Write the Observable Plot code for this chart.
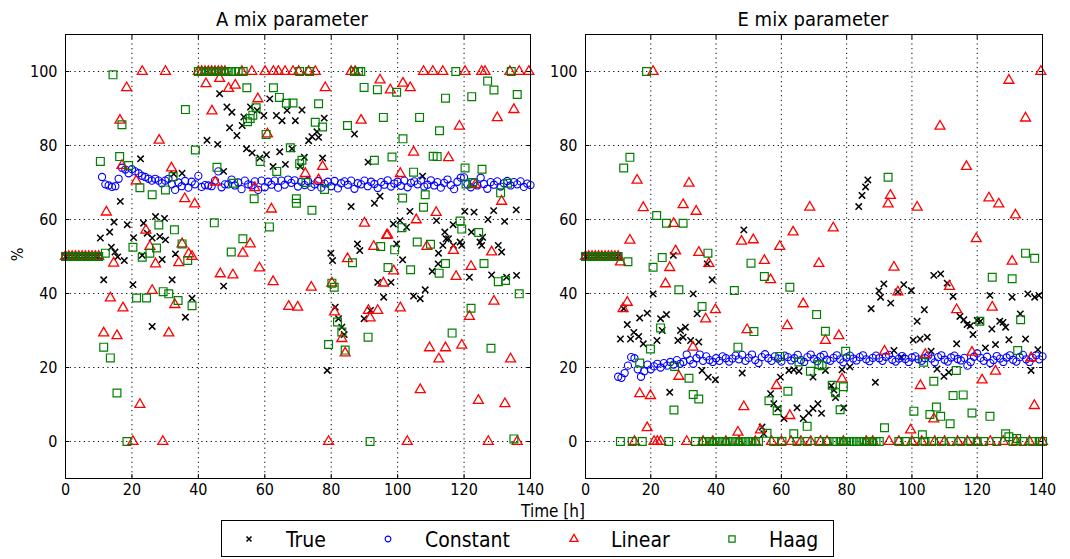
<!DOCTYPE html>
<html><head><meta charset="utf-8">
<script src="https://cdn.jsdelivr.net/npm/d3@7"></script>
<script src="https://cdn.jsdelivr.net/npm/@observablehq/plot@0.6"></script>
<style>
body{margin:0;background:#fff;font-family:"DejaVu Sans Condensed","DejaVu Sans",sans-serif;font-stretch:condensed;}
#wrap{position:relative;width:1070px;height:559px;overflow:hidden;background:#fff;}
.panel{position:absolute;top:0;}
.title{position:absolute;top:7px;font-size:20px;white-space:nowrap;transform:translateX(-50%);}
#ylab{position:absolute;left:11px;top:245px;font-size:16px;transform:rotate(-90deg);}
#xlab{position:absolute;left:553px;top:503px;font-size:17px;line-height:16px;transform:translateX(-50%);white-space:nowrap;}
#legend{position:absolute;left:221px;top:520px;width:611px;height:35px;border:1.3px solid #000;}
</style></head><body><div id="wrap">
<div class="title" style="left:292px">A mix parameter</div>
<div class="title" style="left:813px">E mix parameter</div>
<div id="ylab">%</div>
<div id="xlab">Time [h]</div>
<div id="legend"></div>
</div>
<script>
// ---- tick values ----
const xTicks = [0,20,40,60,80,100,120,140];
const yTicks = [0,20,40,60,80,100];
// ---- common start segment (all series at 50 %) ----
const startTimes = [0,1,2,3,4,5,6,7,8,9,10];
const startValue = 50;

// ---- A mix parameter ----
const A_constantStart = 11;
const A_constant = [71.5,69.5,69.2,68.8,69,71,74,73.5,72.5,73.6,
73,72.5,71.8,71.5,71,70.5,71,70.5,69.8,70.5,
71,69.5,68,70,69,70.4,68.6,70.2,69.5,71.8,
68.8,69.3,69.2,69,70.5,73,68.7,69.5,69.5,70.8,
69.2,70,68.2,70.5,69.5,69.2,70.3,68,70.5,68.7,
70.2,69.4,70.5,68.6,70.5,69.4,70.8,69.9,70.6,68.9,
70.2,69.3,70.4,68.8,69.5,70.4,68.6,69.7,70.2,69,
70.4,68.4,69.8,70.3,69.4,70.5,68.3,69.8,69.5,70.5,
69,70.2,69.6,68.5,70.1,69.4,70.6,68.9,69.7,70.2,
69.1,70.5,68.7,69.9,70.3,69.5,70.5,68.9,69.4,70.6,
69.2,70.1,68.6,69.9,70.8,69.3,68.2,70.2,71.3,71.4,
69.5,68.7,70,69.2,71.3,69.6,68.3,70.1,69.4,70.3,
68.9,69.8,70.4,69.2,70.1,69.5,70.3,68.8,69.7,69.3];

const A_true = [[10.5,55],[11.5,43.7],[13.3,56.6],[13.8,52.5],[14.6,59.3],[14.9,51.2],[15.7,49.9],[16.5,64.9],[17.7,48.9],[18.6,58.6],[20.3,42.4],[20.5,55.1],[22.6,76.4],[23.1,50.3],[23.5,59],[24.6,56.3],[26.1,55],[26.1,31.1],[27.1,60.8],[28.4,55.4],[29.1,49.2],[29.8,60.3],[30.1,54.5],[32.1,43.7],[32.6,72.3],[33.1,50.7],[35.1,72.5],[36.1,33.6],[38.1,38.7],[42.6,81.4],[45.8,80.3],[46.4,94],[47.6,73],[47.6,42],[48.6,90.4],[49.4,84.8],[50.1,89],[51.6,82.7],[53.2,85.4],[53.7,87.7],[54.5,79.1],[55.7,90.4],[56.2,78],[57.7,89.5],[58.5,76.6],[59.7,88.1],[60.5,77.5],[61.5,92.6],[62.5,74.3],[63.5,88.1],[64.5,78.3],[65.2,86.7],[66.2,74.9],[66.7,89.5],[68.2,79.1],[69.2,86.7],[70.7,74.3],[71.2,89.6],[71.9,76.8],[73.2,81.3],[74.2,82.4],[75.7,83.7],[76.2,82.2],[77.4,76.6],[77.9,87.4],[78.8,19.2],[79.9,50.9],[80.4,48.9],[81.2,36.3],[82.2,33.2],[83.2,30.9],[83.9,28.9],[86,63.5],[87,83.1],[87.9,53.4],[88.6,51.6],[89.9,33.2],[91.1,75.5],[91.8,35.4],[93,64.4],[94,43],[94.7,66.3],[95.8,39],[98,43],[98.7,58.8],[99.7,53.4],[100.7,59.7],[101.5,49.1],[102.7,57.9],[103.7,62.2],[104.8,39.3],[106.8,38.6],[107.5,71.7],[108.3,41],[110.4,46],[111.7,59.7],[112.2,48],[112.3,50.9],[113.6,53],[114.2,56.6],[114.6,54.8],[115.3,54.8],[116.7,58.6],[116.8,53],[118.8,53.9],[119.3,53],[120.2,62.2],[121.6,44.4],[122.2,56.6],[123,62],[124.8,53.9],[125.3,53],[125.6,55.2],[127.2,60],[128.3,45],[128.9,62.4],[130.3,53],[131.3,51.2],[132.2,59.5],[132.8,44.4],[135.7,62.6],[135.8,44.9]];

const A_linear = [[23.1,100],[30.1,100],[40,100],[41,100],[42,100],[43,100],[44,100],[45,100],[46,100],[47,100],[48,100],[53.1,100],[56.1,100],[60.1,100],[62.6,100],[64.1,100],[66.1,100],[68.5,100],[70.2,100],[73.2,100],[75.2,100],[86,100],[87.2,100],[107.8,100],[110.6,100],[113.6,100],[120.3,100],[125.3,100],[126.3,100],[133.8,100],[136.6,100],[139.5,100],
[18.4,95.6],[16.4,86.8],[28.2,81.4],[17,74.6],[12.3,62],[21.3,70.4],[31.9,73.9],[35.9,65.6],[38.9,64.2],[24.2,57.1],[42.3,96.7],[44.1,89.3],[46.4,98.1],[49.1,95.4],[51.1,96.3],[57.9,92.6],[60.8,83.1],[45.1,70.1],[57,68.6],[62,62.8],[55.6,53.4],[53.4,50.9],[78.2,95.6],[94.7,97.7],[97.8,95],[101.6,96.8],[103.8,95.6],[89,86.8],[118.6,85.2],[130,87.5],[135,89.7],[104.8,78.2],[115.3,76.7],[77.4,74.3],[72.2,72.4],[76.2,70.7],[100.8,72.4],[123.4,69.4],[131.3,64.9],[111.6,61.9],[90,59],[97,55.8],[105.6,59.9],[92.8,52.7],[108.8,52.7],[116.8,51.6],[122.1,47.3],[128.3,51.2],[84.9,49.4],
[25.4,52.7],[14.5,48.2],[27.1,48],[35.1,53.4],[34.1,48.3],[37.1,50.7],[38.1,50],[13.5,38.8],[17.3,36.1],[26.1,40.8],[32.9,37],[11.5,29.3],[15.5,28.6],[31.1,29.3],[22.4,10],[20.3,0],[29.3,0],[46.6,45.3],[50.4,45],[58.4,46.9],[62.5,43.2],[67.2,36.5],[69.9,36.3],
[96.7,55.7],[80.2,42.8],[81,35],[83.2,27.8],[84.2,23.9],[74,41.7],[95.7,42.8],[98.8,46.1],[91.2,35.4],[91.7,33.4],[94,35.4],[100.8,36.1],[117.6,44.6],[121.6,33.8],[129,37.9],[109.6,25.3],[112.4,22.3],[114.4,25.3],[119.3,26],[134,22.3],[106.8,14],[124.3,11.1],[132.3,10.2],[79.2,0],[102.9,0],[127.3,0],[136,0]];

const A_haag = [[14.3,99.1],[40,100],[41,100],[42,100],[43,100],[44,100],[45,100],[46,100],[47,100],[48,100],[49,100],[50,100],[51,100],[52,100],[53.5,100],[70.5,100],[73.5,100],[87,100],[88.2,100],[88.9,100],[117.5,100],[134.2,100],
[17,85.6],[36.1,89.7],[39.1,78.8],[10.5,75.7],[16.3,77],[19,74.6],[22.4,68.6],[26.1,66.7],[30.1,68],[32.4,71.6],[45.6,74.1],[50.6,69.8],[56.8,65.6],[61.4,58],[44.8,59.1],[53.4,54.8],[49.9,51.2],[20.3,52.5],[28.1,58.5],[32.8,57.2],[23.1,49.8],[25.4,50.9],[27.4,52.3],[36.8,48.9],[35.1,53.4],[54.6,95.6],[62.6,95.6],[64.4,93],[66.5,91.4],[68.5,91.5],[57.4,90.2],[60.4,83],[67.7,79.4],[58.6,75.7],[63.6,73],[69.5,64.4],[70.5,75.1],[56.4,88.2],[54.8,86.4],[55.6,87.3],
[76.2,91.3],[75.2,86.3],[77.4,85],[84.9,85.4],[89.9,95.7],[93.9,95.1],[99.7,94.4],[95.7,87.6],[106.6,87.6],[101.6,81.8],[112.6,84],[114.4,92.8],[122.3,93.2],[127.1,97.4],[129,95],[136,93.8],[71.2,76],[69.5,65.6],[74.2,62.5],[72.4,70],[78,68.1],[93,76],[98.3,76.9],[104.8,72.8],[110.7,77.1],[111.9,77],[120.3,73.9],[125.4,73.6],[101.5,65.8],[108.3,66.7],[107.8,63.3],[120.6,69.6],[122.6,70],[131,67.2],[133.1,69.8],[118.8,59.6],[119.3,57.4],[124.4,56.5],[126,48.1],[114.4,48.1],[101.3,57.8],[105.9,53.9],[109.9,53.3],[94.9,52.7],[99.1,51.8],[86.4,48.3],[97.1,47],[103.9,46.4],
[12,50.9],[21.4,38.8],[24.4,38.8],[29.4,40.5],[31.1,39.9],[33.9,38.1],[38.1,36.7],[11.5,25.5],[13.5,22.6],[15.5,13.1],[18.5,0],
[112.5,45.5],[80.2,42.8],[80.9,41.7],[81.9,32.3],[83.2,29.6],[84.2,24.7],[79.2,26.2],[91.1,28.2],[130.3,43.2],[132.5,43.5],[136.6,39.9],[122.1,36],[116.4,29.3],[128.1,25.2],[91.7,0],[135,0.7]];

// ---- E mix parameter ----
const E_constantStart = 10;
const E_constant = [17.5,
17.2,18.5,20.5,22.8,22.5,19.5,17.5,19,20.8,19.5,
20.3,21,20,21.2,20.5,21.5,20.8,22,21,21.5,
23.5,22,21,22.5,23.5,21.8,23,22,21.5,22.5,
21.8,23,22.5,21.6,22.4,23.2,22.2,23.4,21.8,22.6,
23.5,22,21.2,22.8,23.6,22.5,21.8,23,22.4,21.6,
23.2,22.8,21.9,22.5,23.4,22,21.5,22.8,23.5,22.3,
21.7,22.9,23.4,22.1,21.8,22.6,23.3,22.2,21.4,22.7,
23.2,22.4,21.9,22.8,23.3,22.2,21.7,22.6,23.2,22.5,
21.8,22.9,23.4,22.1,21.6,22.4,23.1,22.3,21.5,22.7,
23,22.2,21.8,22.5,23.2,22.4,21.4,22.8,23.3,22.1,
21.6,22.7,23.2,22.3,21.9,22.6,20.5,21.5,22.9,23.8,
22.6,21.8,22.9,21.2,22,23.1,22.4,21.5,22.7,23.3,
22.1,21.6,22.8,23.4,22.2,21.5,22.6,23.3,22.2,23];

const E_true = [[11.7,35.9],[12.8,31.6],[13.8,27.7],[14.8,29.5],[16.3,28.4],[16.6,33.4],[18.9,34.7],[17.7,26.4],[10.7,27.7],[20.7,39.9],[21.9,27.3],[23,33.2],[24.8,34.3],[23.5,30],[26.9,50.3],[25.8,13.3],[28.3,27.3],[29.1,30],[30.6,30.9],[33,39.9],[34.2,34.5],[29.9,28.2],[32.2,27.3],[34.7,26.9],[37.3,48],[38.8,43.7],[35.7,19.2],[37.6,17.4],[39.8,16.7],[48,18.5],[48.5,57.2],[54.1,3.9],[54.6,2.1],[56.7,12.9],[57.7,10.2],[58.9,8.9],[60.8,6.2],[59.7,17.4],[62.3,19.2],[63.8,19.4],[65.4,19],[64.8,9.1],[66.7,6.2],[68.4,7.7],[69.7,8.9],[71.2,10.2],[69.7,17.4],[72.3,7.6],
[73.5,19.2],[75.3,15.1],[76.1,13.9],[76.6,11.9],[79.1,9.1],[78.6,19.4],[81,20.2],[88.8,16],[87.5,35.9],[90.4,39],[89.9,40.7],[91.4,42.6],[93.5,37.4],[95.7,40.4],[97.5,42.4],[99.8,40.8],[94.5,24.6],[96.7,22.8],[101.6,32.5],[103.8,35.6],[100.4,27.4],[102.5,27.7],[104.7,28.2],[105.9,24.4],[106.7,44.9],[108.8,45.3],[110.8,42.8],[112.6,39.2],[107.7,19.6],[109.8,17.6],[111.3,18.7],[114.7,33.8],[115.9,32.9],[116.9,31.6],[117.9,31.3],[118.7,28.9],[120,32.7],[121,32.5],[113.7,26.4],[122.5,25.3],[124.5,30.4],[125.6,26.2],[126.9,32.5],[127.9,32.2],[128.7,30.9],[129.7,27.5],[123.9,39.5],[130.7,39],[133.2,34.5],[134.8,27.7],[135.5,39.9],[137.6,39],[138.9,39.5],[136.5,19.2],[138.6,24.8],
[83.7,63.5],[84.7,66.5],[85.8,68.8],[86.5,70.7]];

const E_linear = [[20.7,100],[15.8,70.6],[17.7,63.2],[13.6,54.4],[10.7,48.5],[31.7,69.8],[29.9,64],[33.9,62.2],[27,58.9],[27.6,51.5],[34.7,51.1],[37.8,48.1],[25.8,47],[47.8,54.1],[51.4,54.5],[54.8,48.9],[59.5,52.7],[63.6,56.6],[68.7,63.3],[71.5,48.1],
[12.8,37.6],[11.5,35.9],[24.5,42.6],[39.8,35.6],[36.8,33.1],[32.9,25.5],[28.6,17.6],[16.6,12.9],[19.9,12.4],[18.9,3.7],[46.7,2.5],[48.5,9.4],[49.5,30.2],[53.6,3.1],[56.7,43.7],[61.8,31.3],[66.7,37.2],[58.5,15.1],[62.6,7],
[93.4,66.5],[92.7,64.2],[101.6,63.3],[108.6,85.2],[116.7,74.3],[123.6,65.8],[126.6,64.2],[131.7,61.2],[119.7,54.8],[129.7,97.6],[134.8,87.4],[139.5,100],[75.9,57.7],[94.5,47.1],[130.7,48.7],
[77.6,28.6],[73.5,27.3],[95.7,40.4],[111.5,41.9],[113.7,35.6],[91.6,24.4],[104.1,23.5],[118.4,24.1],[125.6,19],[121.5,16.6],[78.6,16.9],[102.6,15.1],[106.7,6.1],[99.6,3.1],[137.5,9.7],[124.6,36.3],[136.5,22.6],
[15,0],[21,0],[22,0],[23,0],[31,0],[36,0],[39,0],[43,0],[47,0],[52,0],[57,0],[60,0],[63,0],[66,0],[69,0],[72,0],[74,0],[79,0],[86,0],[88,0],[93,0],[96,0],[100,0],[103,0],[107,0],[110,0],[114,0],[117,0],[120,0],[124,0],[128,0],[132,0],[136,0],[140,0]];

const E_haag = [[18.7,100],[13.6,76.8],[11.7,73.9],[21.8,61.1],[24.8,59],[29.9,59],[23.5,49.7],[20.7,47.1],[37.5,50.9],[50.7,48.2],[13,48.6],
[28.6,41],[23,30.7],[19.9,25],[16.6,21.2],[27.1,8.5],[31.7,17.1],[33,12.7],[34.7,11.5],[35.7,36.5],[45.6,40.8],[46.7,25.5],[51.6,29.7],[54.8,44.6],[62.6,41.7],[59.5,23],[62,13.6],[63.8,2.1],[67.9,4.1],[68.9,19],[65.4,21.5],[70.8,34.3],[71.5,20.8],[56.2,11],[58.7,8.3],[55.6,2.2],[27.3,20.3],
[92.7,71.4],[134.8,50.9],[137.6,49.5],
[73.5,29.8],[72.5,20.5],[75.6,15.2],[76.6,13.2],[79,14.8],[78,8.6],[79.7,24.4],[91.6,3.7],[100.6,8.2],[105.5,7.3],[107.5,9.3],[108.8,6.8],[111.7,4.8],[113.6,19.2],[112.6,12.4],[115.7,12.6],[106.7,16.3],[118.4,7.7],[123.9,6.8],[120.8,32.5],[124.6,44.4],[130.7,44],[133.3,32.9],[132.4,24.6],[128.7,2.1],[129.7,1.3],[132.1,0.8],[103.2,1.8],[103.6,21.4],
[10.7,0],[14.3,0],[17.4,0],[25.5,0],[33.7,0],[36,0],[37,0],[38,0],[39,0],[40,0],[41,0],[42,0],[43,0],[44,0],[45,0],[46,0],[47,0],[48,0],[49,0],[50,0],[51,0],[52,0],[53,0],[57.7,0],[60.2,0],[64.8,0],[67.9,0],[71.5,0],[74,0],[76,0],[77,0],[78,0],[79,0],[80,0],[81,0],[82,0],[83,0],[84,0],[85,0],[86,0],[87,0],[88,0],[89,0],[90,0],[96,0],[98,0],[101,0],[104,0],[106,0],[109,0],[112,0],[115,0],[118,0],[120,0],[122,0],[126,0],[131,0],[134,0],[137,0],[139,0],[140,0]];

// ---- series styles ----
const seriesNames = ["True","Constant","Linear","Haag"];
const seriesColors = ["#000000","#0000ff","#ff0000","#008000"];
const seriesSymbols = ["times","circle","triangle","square"];
const seriesR = [3.0,3.6,3.7,4.4];
const seriesSW = [1.5,1.1,1.3,1.2];

function withStart(pairs){ return startTimes.map(t => [t, startValue]).concat(pairs); }
function constPairs(start, vals){ return vals.map((v,i) => [start+i, v]); }

const FONT = "'DejaVu Sans Condensed', 'DejaVu Sans', sans-serif";

function panel(series, w, ml, mr){
  const marks = [
    Plot.gridX(xTicks, {stroke:"#000", strokeOpacity:1, strokeDasharray:"1.2,3.5", strokeWidth:1}),
    Plot.gridY(yTicks, {stroke:"#000", strokeOpacity:1, strokeDasharray:"1.2,3.5", strokeWidth:1}),
    Plot.axisX(xTicks, {anchor:"bottom", tickSize:-4, tickPadding:9, fontSize:16}),
    Plot.axisX(xTicks, {anchor:"top", tickSize:-4, tickFormat:()=>""}),
    Plot.axisY(yTicks, {anchor:"left", tickSize:-4, tickPadding:12, fontSize:16}),
    Plot.axisY(yTicks, {anchor:"right", tickSize:-4, tickFormat:()=>""})
  ];
  series.forEach((data,i) => {
    marks.push(Plot.dot(withStart(data), {x:d=>d[0], y:d=>d[1], symbol:seriesSymbols[i], r:seriesR[i], stroke:seriesColors[i], fill:"none", strokeWidth:seriesSW[i]}));
  });
  marks.push(Plot.frame({stroke:"#000", strokeWidth:1}));
  return Plot.plot({
    width:w, height:500, marginTop:34, marginBottom:22, marginLeft:ml, marginRight:mr,
    x:{domain:[0,140], label:null},
    y:{domain:[-10,110], label:null},
    style:{fontFamily:FONT, fontSize:"16px", color:"#000", background:"transparent", overflow:"visible", fontStretch:"condensed"},
    marks
  });
}

const wrap = document.getElementById("wrap");
const left = panel([A_true, constPairs(A_constantStart, A_constant), A_linear, A_haag], 540, 65, 10);
left.classList.add("panel"); left.style.left = "0px";
wrap.appendChild(left);
const right = panel([E_true, constPairs(E_constantStart, E_constant), E_linear, E_haag], 530, 45, 28);
right.classList.add("panel"); right.style.left = "540px";
wrap.appendChild(right);

// ---- legend ----
const legendX = [27,166,352,510];
const legendTextX = [64,203,389,547];
const svg = d3.select("#legend").append("svg").attr("width",611).attr("height",35);
seriesNames.forEach((name,i) => {
  const size = Math.PI * (seriesR[i]*0.8) ** 2;
  const sym = {times:d3.symbolTimes, circle:d3.symbolCircle, triangle:d3.symbolTriangle, square:d3.symbolSquare}[seriesSymbols[i]];
  svg.append("path").attr("d", d3.symbol(sym, size)()).attr("transform",`translate(${legendX[i]},${18})`)
    .attr("fill","none").attr("stroke",seriesColors[i]).attr("stroke-width",seriesSW[i]);
  svg.append("text").attr("x",legendTextX[i]).attr("y",26).attr("font-size",21).attr("font-family",FONT).attr("font-stretch","condensed").text(name);
});
</script>
</body></html>
